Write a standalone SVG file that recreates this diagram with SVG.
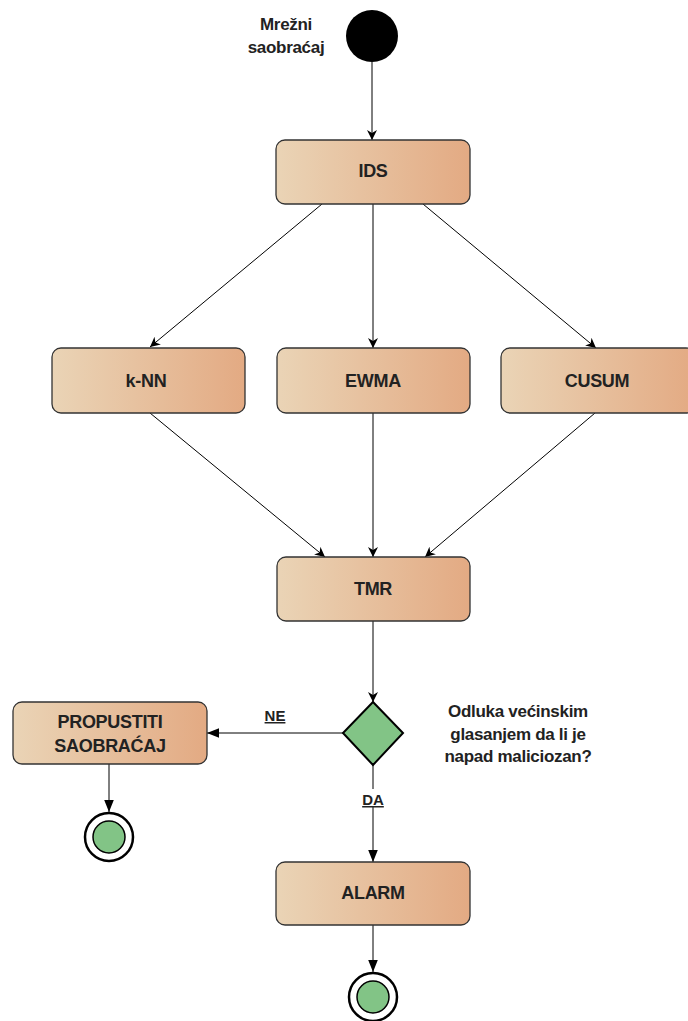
<svg xmlns="http://www.w3.org/2000/svg" width="688" height="1021" viewBox="0 0 688 1021">
<defs>
<linearGradient id="g" x1="0" y1="0" x2="1" y2="0">
<stop offset="0" stop-color="#EAD4B6"/>
<stop offset="1" stop-color="#E3AA83"/>
</linearGradient>
<marker id="a" viewBox="0 0 10 10" refX="10" refY="5" markerWidth="10" markerHeight="10" markerUnits="userSpaceOnUse" orient="auto">
<path d="M0,0 L10,5 L0,10 L3,5 Z" fill="#000"/>
</marker>
<marker id="b" viewBox="0 0 10 10" refX="10" refY="5" markerWidth="12" markerHeight="12" markerUnits="userSpaceOnUse" orient="auto">
<path d="M0,1 L10,5 L0,9 Z" fill="#000"/>
</marker>
</defs>
<style>
.box{fill:url(#g);stroke:#333;stroke-width:1.3}
.t{font-family:"Liberation Sans",Arial,sans-serif;font-weight:bold;font-size:18px;fill:#222;text-anchor:middle;letter-spacing:-0.3px}
.s{font-size:17px}
.e{stroke:#000;stroke-width:1;fill:none}
.lbl{font-family:"Liberation Sans",Arial,sans-serif;font-weight:bold;font-size:15px;fill:#222;text-anchor:middle;text-decoration:underline}
.end-o{fill:#fff;stroke:#000;stroke-width:2.5}
.end-i{fill:#82C486;stroke:#000;stroke-width:1.5}
</style>
<g id="start">
<circle cx="372" cy="36" r="26" fill="#000"/>
<text class="t s" x="286" y="30">Mrežni</text>
<text class="t s" x="286" y="53">saobraćaj</text>
</g>
<g id="connectors">
<line class="e" x1="372" y1="62" x2="372" y2="140" marker-end="url(#a)"/>
<line class="e" x1="322" y1="204" x2="150" y2="347" marker-end="url(#a)"/>
<line class="e" x1="373" y1="204" x2="373" y2="348" marker-end="url(#a)"/>
<line class="e" x1="423" y1="204" x2="596" y2="348" marker-end="url(#a)"/>
<line class="e" x1="150" y1="413" x2="325" y2="557" marker-end="url(#a)"/>
<line class="e" x1="373" y1="413" x2="373" y2="557" marker-end="url(#a)"/>
<line class="e" x1="595" y1="413" x2="425" y2="557" marker-end="url(#a)"/>
<line class="e" x1="373" y1="621" x2="373" y2="702" marker-end="url(#a)"/>
<line class="e" x1="343" y1="733" x2="207" y2="733" marker-end="url(#b)"/>
<line class="e" x1="373" y1="765" x2="373" y2="862" marker-end="url(#b)"/>
<line class="e" x1="109" y1="764" x2="109" y2="812" marker-end="url(#b)"/>
<line class="e" x1="373" y1="925" x2="373" y2="972" marker-end="url(#b)"/>
<rect x="262" y="707" width="26" height="18" fill="#fff"/>
<text class="lbl" x="275" y="721">NE</text>
<rect x="360" y="789" width="26" height="18" fill="#fff"/>
<text class="lbl" x="373" y="805">DA</text>
</g>
<g id="ids">
<rect class="box" x="276" y="140" width="194" height="64" rx="9"/>
<text class="t" x="373" y="177">IDS</text>
</g>
<g id="knn">
<rect class="box" x="52" y="348" width="193" height="65" rx="9"/>
<text class="t" x="146" y="387">k-NN</text>
</g>
<g id="ewma">
<rect class="box" x="277" y="348" width="193" height="65" rx="9"/>
<text class="t" x="373" y="387">EWMA</text>
</g>
<g id="cusum">
<rect class="box" x="501" y="348" width="194" height="65" rx="9"/>
<text class="t" x="597" y="387">CUSUM</text>
</g>
<g id="tmr">
<rect class="box" x="277" y="557" width="193" height="64" rx="9"/>
<text class="t" x="373" y="595">TMR</text>
</g>
<g id="decision">
<polygon points="373,702 403,733 373,765 343,733" fill="#82C486" stroke="#000" stroke-width="2"/>
<text class="t s" x="518" y="717">Odluka većinskim</text>
<text class="t s" x="518" y="740">glasanjem da li je</text>
<text class="t s" x="518" y="762">napad maliciozan?</text>
</g>
<g id="propustiti">
<rect class="box" x="13" y="702" width="194" height="62" rx="9"/>
<text class="t" x="110" y="728">PROPUSTITI</text>
<text class="t" x="110" y="752">SAOBRAĆAJ</text>
</g>
<g id="end1">
<circle class="end-o" cx="109" cy="837" r="24"/>
<circle class="end-i" cx="109" cy="837" r="16"/>
</g>
<g id="alarm">
<rect class="box" x="276" y="862" width="194" height="63" rx="9"/>
<text class="t" x="373" y="899">ALARM</text>
</g>
<g id="end2">
<circle class="end-o" cx="373" cy="997" r="24"/>
<circle class="end-i" cx="373" cy="997" r="16"/>
</g>
</svg>
